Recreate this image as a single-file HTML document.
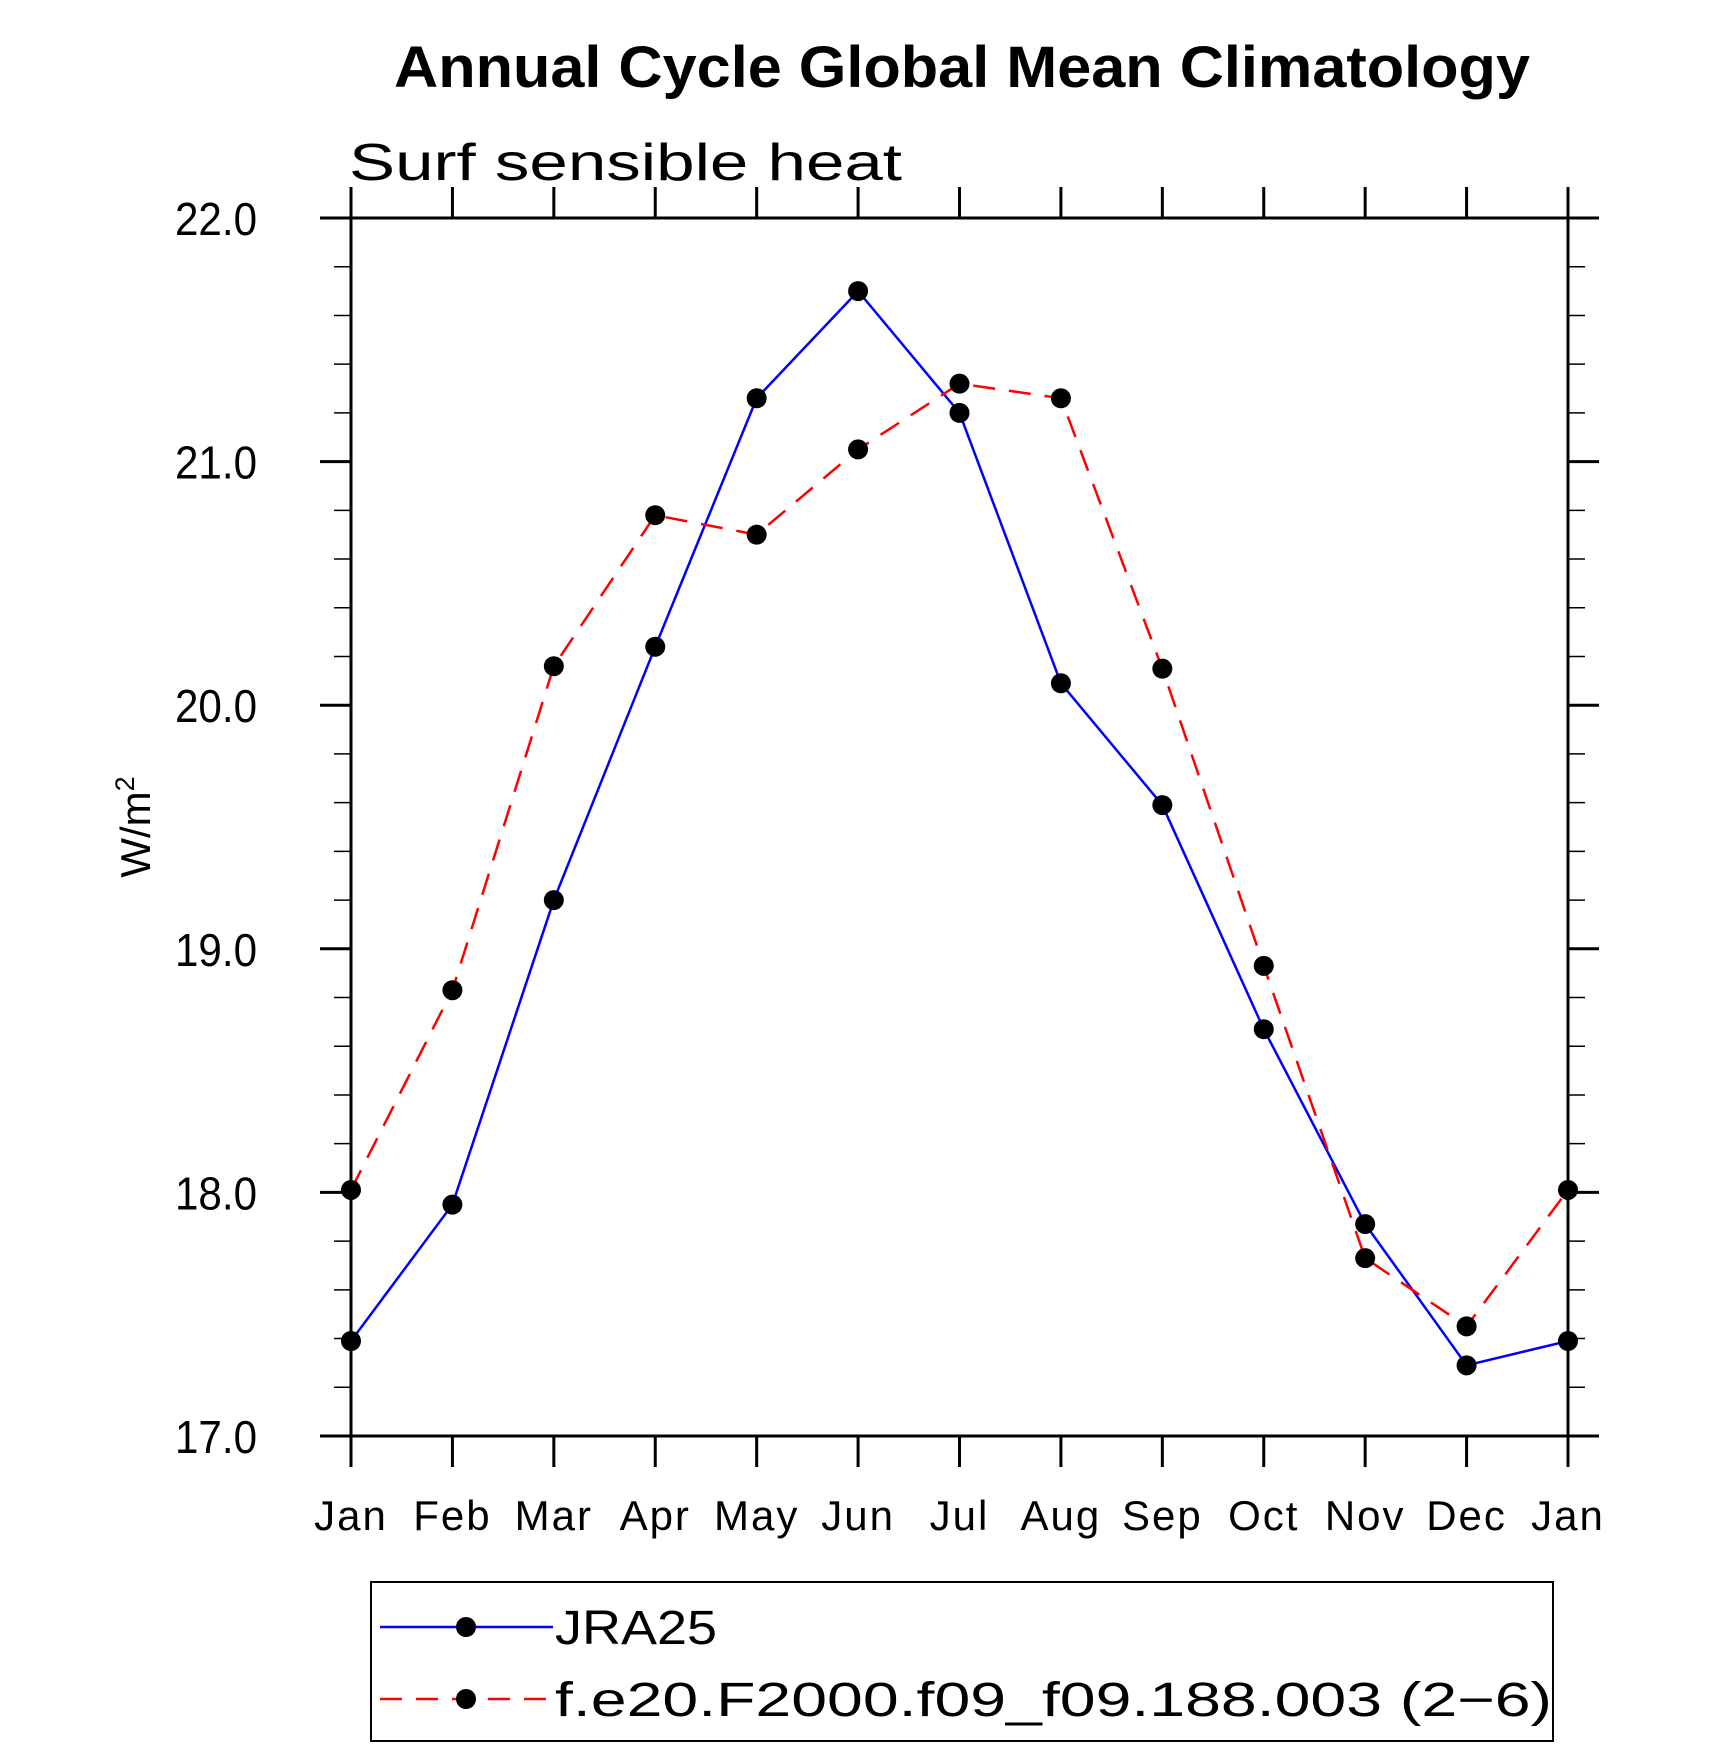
<!DOCTYPE html>
<html><head><meta charset="utf-8">
<style>
body{margin:0;background:#fff;}
svg{display:block;}
text{font-family:"Liberation Sans",sans-serif;}
</style></head>
<body>
<svg id="chart" width="1710" height="1746" viewBox="0 0 1710 1746" xmlns="http://www.w3.org/2000/svg">
<text x="394" y="87" textLength="1136" lengthAdjust="spacingAndGlyphs" font-size="58" font-weight="bold">Annual Cycle Global Mean Climatology</text>
<text x="349" y="180" textLength="553" lengthAdjust="spacingAndGlyphs" font-size="52">Surf  sensible  heat</text>
<text transform="translate(150,827) rotate(-90)" text-anchor="middle" font-size="42">W/m<tspan dy="-16" font-size="27">2</tspan></text>
<g id="axes"></g>
<g id="series"></g>
<rect x="371" y="1582" width="1182" height="159" fill="none" stroke="#000" stroke-width="2"/>
<g>
<line x1="380" y1="1627" x2="553" y2="1627" stroke="#0000ff" stroke-width="2.5"/>
<circle cx="466" cy="1627" r="10" fill="#000"/>
<text x="555" y="1644" font-size="48" textLength="162" lengthAdjust="spacingAndGlyphs">JRA25</text>
</g>
<g>
<line x1="380" y1="1699" x2="553" y2="1699" stroke="#ff0000" stroke-width="2.5" stroke-dasharray="22,14"/>
<circle cx="466" cy="1699" r="10" fill="#000"/>
<text x="555" y="1716" font-size="48" textLength="997" lengthAdjust="spacingAndGlyphs">f.e20.F2000.f09_f09.188.003 (2−6)</text>
</g>
</svg>
<script>
const months = ["Jan","Feb","Mar","Apr","May","Jun","Jul","Aug","Sep","Oct","Nov","Dec","Jan"];
const jra25 = [17.39,17.95,19.20,20.24,21.26,21.70,21.20,20.09,19.59,18.67,17.87,17.29,17.39];
const model = [18.01,18.83,20.16,20.78,20.70,21.05,21.32,21.26,20.15,18.93,17.73,17.45,18.01];
const yTicks = ["17.0","18.0","19.0","20.0","21.0","22.0"];

const NS="http://www.w3.org/2000/svg";
const L=351,R=1568,T=218,B=1436,Y0=17,Y1=22;
const xs=i=>L+(R-L)*i/12;
const ys=v=>B-(v-Y0)/(Y1-Y0)*(B-T);
function mk(tag,attrs,parent){const e=document.createElementNS(NS,tag);for(const k in attrs)e.setAttribute(k,attrs[k]);parent.appendChild(e);return e;}
const ax=document.getElementById('axes');
const frame=mk('rect',{x:L,y:T,width:R-L,height:B-T,fill:'none',stroke:'#000','stroke-width':3},ax);


months.forEach((m,i)=>{
  const x=xs(i);
  mk('line',{x1:x,y1:B,x2:x,y2:B+31,stroke:'#000','stroke-width':3},ax);
  mk('line',{x1:x,y1:T,x2:x,y2:T-31,stroke:'#000','stroke-width':3},ax);
  const t=mk('text',{x:x,y:1530,'text-anchor':'middle','font-size':42,'letter-spacing':'2'},ax);
  t.textContent=m;
  
  
});
for(let k=0;k<=25;k++){
  const v=Y0+k*0.2,y=ys(v),major=k%5===0;
  const len=major?31:17;
  mk('line',{x1:L-len,y1:y,x2:L,y2:y,stroke:'#000','stroke-width':major?3:1.5},ax);
  mk('line',{x1:R,y1:y,x2:R+len,y2:y,stroke:'#000','stroke-width':major?3:1.5},ax);
}
yTicks.forEach(s=>{
  const t=mk('text',{x:175,y:ys(parseFloat(s))+17,'font-size':46,textLength:82,lengthAdjust:'spacingAndGlyphs'},ax);
  t.textContent=s;
  
  
});
const sg=document.getElementById('series');
function draw(vals,color,dash,name){
  const g=mk('g',{},sg);
  
  
  const pts=vals.map((v,i)=>xs(i)+','+ys(v)).join(' ');
  const a={points:pts,fill:'none',stroke:color,'stroke-width':2.5};
  if(dash)a['stroke-dasharray']=dash;
  mk('polyline',a,g);
  vals.forEach((v,i)=>{
    const c=mk('circle',{cx:xs(i),cy:ys(v),r:10,fill:'#000'},g);
    
    
  });
}
draw(jra25,'#0000ff',null,'series-jra25');
draw(model,'#ff0000','22,14','series-model');
</script>
</body></html>
